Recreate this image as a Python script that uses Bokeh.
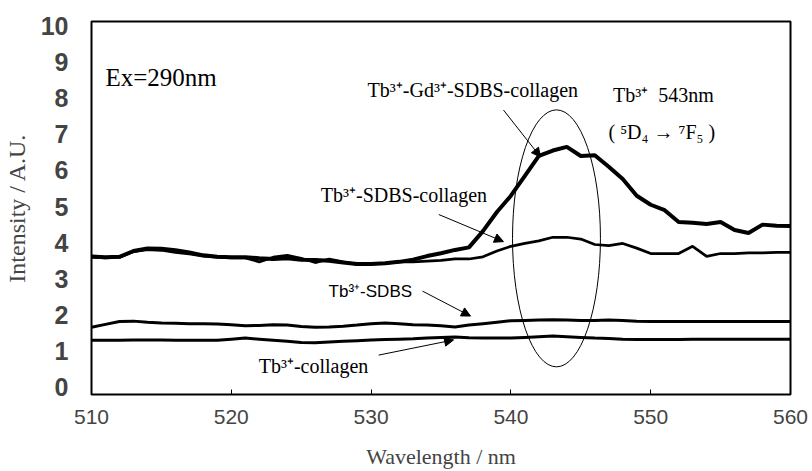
from bokeh.plotting import figure
from bokeh.models import Range1d, FixedTicker, Arrow, NormalHead, ColumnDataSource
from bokeh.core.properties import value
from bokeh.embed import file_html
from bokeh.resources import INLINE

# ---------------- data ----------------
wavelength = list(range(510, 561))

tb_gd_sdbs_collagen = [3.62, 3.60, 3.61, 3.77, 3.84, 3.83, 3.79, 3.73, 3.65, 3.61,
                       3.60, 3.60, 3.57, 3.55, 3.57, 3.53, 3.52, 3.50, 3.45, 3.41,
                       3.41, 3.43, 3.47, 3.53, 3.63, 3.71, 3.80, 3.87, 4.32, 4.85,
                       5.30, 5.85, 6.40, 6.55, 6.65, 6.40, 6.42, 6.10, 5.76, 5.30,
                       5.05, 4.90, 4.57, 4.55, 4.52, 4.57, 4.35, 4.27, 4.50, 4.47,
                       4.46]

tb_sdbs_collagen = [3.60, 3.58, 3.60, 3.75, 3.81, 3.79, 3.73, 3.69, 3.63, 3.60,
                    3.58, 3.58, 3.47, 3.60, 3.65, 3.57, 3.45, 3.55, 3.47, 3.40,
                    3.41, 3.43, 3.47, 3.47, 3.49, 3.51, 3.55, 3.55, 3.61, 3.77,
                    3.90, 3.98, 4.05, 4.15, 4.15, 4.10, 3.95, 3.92, 3.98, 3.85,
                    3.70, 3.70, 3.70, 3.90, 3.62, 3.70, 3.70, 3.72, 3.72, 3.73,
                    3.73]

tb_sdbs = [1.66, 1.74, 1.82, 1.83, 1.80, 1.78, 1.77, 1.76, 1.76, 1.75,
           1.73, 1.70, 1.71, 1.73, 1.72, 1.68, 1.66, 1.67, 1.69, 1.72,
           1.76, 1.78, 1.76, 1.73, 1.72, 1.70, 1.67, 1.72, 1.76, 1.80,
           1.84, 1.85, 1.86, 1.87, 1.86, 1.85, 1.85, 1.86, 1.85, 1.83,
           1.82, 1.82, 1.82, 1.82, 1.82, 1.82, 1.82, 1.82, 1.82, 1.82,
           1.82]

tb_collagen = [1.30, 1.30, 1.30, 1.31, 1.31, 1.31, 1.30, 1.30, 1.30, 1.30,
               1.33, 1.36, 1.33, 1.30, 1.27, 1.24, 1.23, 1.25, 1.27, 1.29,
               1.31, 1.32, 1.33, 1.34, 1.36, 1.38, 1.39, 1.37, 1.36, 1.36,
               1.36, 1.38, 1.40, 1.42, 1.40, 1.38, 1.36, 1.35, 1.33, 1.32,
               1.32, 1.32, 1.32, 1.33, 1.33, 1.33, 1.33, 1.33, 1.33, 1.33,
               1.33]

x_ticks = [510, 520, 530, 540, 550, 560]
y_ticks = [0, 1, 2, 3, 4, 5, 6, 7, 8, 9, 10]

# annotations: labels, anchor positions (data units)
label_texts = ["Ex=290nm", "Tb³⁺-Gd³⁺-SDBS-collagen", "Tb³⁺\u00a0\u00a0543nm",
               "( ⁵D₄ → ⁷F₅ )", "Tb³⁺-SDBS-collagen", "Tb³⁺-collagen"]
label_x = [511.0, 529.75, 547.3, 546.98, 526.4, 521.96]
label_y = [8.58, 8.22, 8.08, 7.06, 5.33, 0.59]
label_size = ["25px", "20px", "20px", "20px", "20px", "20px"]

sans_label_text = ["Tb³⁺-SDBS"]
sans_label_x = [526.96]
sans_label_y = [2.66]

arrow_x0 = [539.47, 534.84, 533.68, 530.54]
arrow_y0 = [7.67, 4.78, 2.66, 0.89]
arrow_x1 = [542.12, 539.47, 537.11, 535.90]
arrow_y1 = [6.37, 4.03, 1.97, 1.31]

ellipse_cx = [543.26]
ellipse_cy = [4.12]
ellipse_w = [6.29]
ellipse_h = [7.11]

# ---------------- figure ----------------
p = figure(width=812, height=471, output_backend="svg", toolbar_location=None,
           x_range=Range1d(510, 560), y_range=Range1d(-0.2, 10.12),
           min_border_left=91, min_border_right=22, min_border_top=21,
           min_border_bottom=75)

p.background_fill_color = "white"
p.border_fill_color = "white"
p.outline_line_color = "black"
p.outline_line_width = 2
p.grid.visible = False

p.line(wavelength, tb_gd_sdbs_collagen, line_color="black", line_width=4)
p.line(wavelength, tb_sdbs_collagen, line_color="black", line_width=2.7)
p.line(wavelength, tb_sdbs, line_color="black", line_width=3)
p.line(wavelength, tb_collagen, line_color="black", line_width=3)

p.ellipse(x=ellipse_cx, y=ellipse_cy, width=ellipse_w, height=ellipse_h,
          fill_color=None, line_color="black", line_width=1)

for xs, ys, xe, ye in zip(arrow_x0, arrow_y0, arrow_x1, arrow_y1):
    p.add_layout(Arrow(end=NormalHead(size=9, fill_color="black", line_color="black"),
                       x_start=xs, y_start=ys, x_end=xe, y_end=ye,
                       line_color="black", line_width=1))

src = ColumnDataSource(dict(x=label_x, y=label_y, t=label_texts, s=label_size))
p.text(x="x", y="y", text="t", source=src, text_font=value("Liberation Serif"),
       text_font_size="s", text_align="left", text_baseline="middle", text_color="black")

p.text(x=sans_label_x, y=sans_label_y, text=sans_label_text,
       text_font=value("Liberation Sans"), text_font_size="17px",
       text_align="left", text_baseline="middle", text_color="black")

# axes
xa = p.xaxis[0]
xa.ticker = FixedTicker(ticks=x_ticks)
xa.axis_line_color = None
xa.major_tick_in = 5
xa.major_tick_out = 0
xa.major_tick_line_color = "black"
xa.minor_tick_line_color = None
xa.major_label_text_font = "Liberation Sans"
xa.major_label_text_font_size = "21px"
xa.major_label_standoff = 15
xa.axis_label = "Wavelength / nm"
xa.axis_label_text_font = "Liberation Serif"
xa.axis_label_text_font_style = "normal"
xa.axis_label_text_font_size = "22px"
xa.axis_label_standoff = 17

ya = p.yaxis[0]
ya.ticker = FixedTicker(ticks=y_ticks)
ya.axis_line_color = None
ya.major_tick_in = 0
ya.major_tick_out = 0
ya.minor_tick_line_color = None
ya.major_label_text_font = "Liberation Sans"
ya.major_label_text_font_style = "bold"
ya.major_label_text_font_size = "25px"
ya.major_label_standoff = 23
ya.axis_label = "Intensity / A.U."
ya.axis_label_text_font = "Liberation Serif"
ya.axis_label_text_font_style = "normal"
ya.axis_label_text_font_size = "24px"
ya.axis_label_standoff = 8

open("out.html", "w").write(file_html(p, INLINE))
